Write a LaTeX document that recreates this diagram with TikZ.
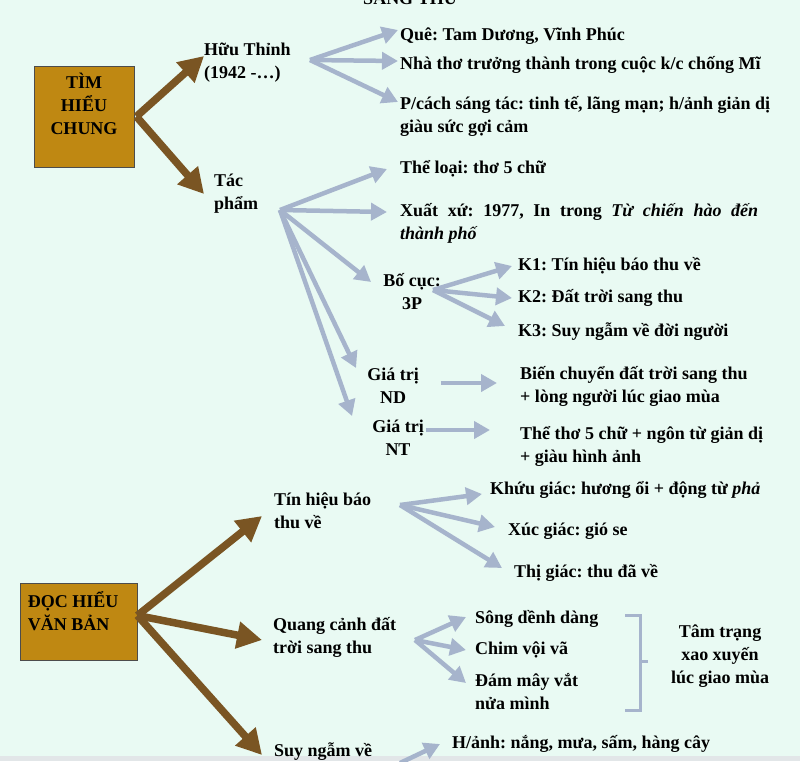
\documentclass[tikz,border=0pt]{standalone}
\usepackage{fontspec}
\setmainfont{Liberation Serif}
\usetikzlibrary{arrows.meta, positioning}

\definecolor{bgmint}{RGB}{233,250,243}
\definecolor{stripgray}{RGB}{226,230,232}
\definecolor{boxgold}{RGB}{191,136,18}
\definecolor{arrowbrown}{RGB}{122,85,35}
\definecolor{arrowblue}{RGB}{166,180,204}

\frenchspacing

\begin{document}
\begin{tikzpicture}[x=1pt, y=-1pt,
        txt/.style={font=\bfseries\fontsize{18}{23}\selectfont, inner sep=0pt, align=left, anchor=west},
        mid/.style={txt, align=center, anchor=center},
        topic/.style={draw=gray!60!black, fill=boxgold, line width=0.8pt, inner sep=0pt},
        mainarrow/.style={draw=arrowbrown, line width=7.5pt, -{Triangle[length=25pt,width=26pt]}},
        subarrow/.style={draw=arrowblue, line width=4.5pt, -{Triangle[length=16pt,width=17pt]}}]

        \fill[bgmint] (0,0) rectangle (800,761);
        \fill[stripgray] (0,756) rectangle (800,761);
        \useasboundingbox (0,0) rectangle (800,761);

        \node[txt, anchor=base] (title) at (410,4) {SANG THU};

        % tim hieu chung
        \node[topic, minimum width=100pt, minimum height=101pt,
              label={[mid, yshift=13pt]center:{TÌM\\HIỂU\\CHUNG}}] (timhieu) at (84,116.5) {};
        \node[txt] (huu) at (204,63) {Hữu Thỉnh\\(1942 -…)};
        \node[txt] (tac) at (214,194) {Tác\\phẩm};

        \node[txt] (que) at (400,36) {Quê: Tam Dương, Vĩnh Phúc};
        \node[txt] (nha) at (400,65) {Nhà thơ trưởng thành trong cuộc k/c chống Mĩ};
        \node[txt] (pcach) at (400,116) {P/cách sáng tác: tinh tế, lãng mạn; h/ảnh giản dị\\giàu sức gợi cảm};

        \node[txt] (theloai) at (400,169) {Thể loại: thơ 5 chữ};
        \node[txt] (xuatxu) at (400,223) {\makebox[358pt][s]{Xuất xứ: 1977, In trong \textit{Từ chiến hào đến}}\\\textit{thành phố}};
        \node[mid] (bocuc) at (412,292) {Bố cục:\\3P};
        \node[txt] (k1) at (518,266) {K1: Tín hiệu báo thu về};
        \node[txt] (k2) at (518,298) {K2: Đất trời sang thu};
        \node[txt] (k3) at (518,332) {K3: Suy ngẫm về đời người};
        \node[mid] (gtnd) at (393,386) {Giá trị\\ND};
        \node[txt] (bienchuyen) at (520,386) {Biến chuyển đất trời sang thu\\+ lòng người lúc giao mùa};
        \node[mid] (gtnt) at (398,438) {Giá trị\\NT};
        \node[txt] (thetho) at (520,446) {Thể thơ 5 chữ + ngôn từ giản dị\\+ giàu hình ảnh};

        \coordinate (hubA) at ([xshift=2pt]timhieu.east);
        \coordinate (hubHuu) at (310,60);
        \coordinate (hubTac) at (280,210);
        \coordinate (hubBo) at (433,290);

        \draw[mainarrow] (hubA) -- ([yshift=7pt]huu.west);
        \draw[mainarrow] (hubA) -- ([xshift=-10pt]tac.west);

        \draw[subarrow] (hubHuu) -- ([xshift=-2pt,yshift=6pt]que.west);
        \draw[subarrow] (hubHuu) -- ([xshift=-2pt,yshift=4pt]nha.west);
        \draw[subarrow] (hubHuu) -- ([xshift=-2pt,yshift=14pt]pcach.west);

        \draw[subarrow] (hubTac) -- ([xshift=-13pt]theloai.west);
        \draw[subarrow] (hubTac) -- ([xshift=-13pt,yshift=11pt]xuatxu.west);
        \draw[subarrow] (hubTac) -- ([xshift=-12pt,yshift=10pt]bocuc.west);
        \draw[subarrow] (hubTac) -- ([xshift=-11pt]gtnd.north west);
        \draw[subarrow] (hubTac) -- ([xshift=-20pt,yshift=4pt]gtnt.north west);

        \draw[subarrow] (hubBo) -- ([xshift=-6pt]k1.west);
        \draw[subarrow] (hubBo) -- ([xshift=-6pt]k2.west);
        \draw[subarrow] (hubBo) -- ([xshift=-13pt,yshift=6pt]k3.west);

        \draw[subarrow] ([xshift=22pt,yshift=3pt]gtnd.east) -- ([xshift=-23pt,yshift=3pt]bienchuyen.west);
        \draw[subarrow] ([xshift=2pt,yshift=8pt]gtnt.east) -- ([xshift=-30pt,yshift=16pt]thetho.west);

        % doc hieu van ban
        \node[topic, minimum width=117pt, minimum height=77pt,
              label={[txt, xshift=8pt, yshift=10pt]west:{ĐỌC HIỂU\\VĂN BẢN}}] (dochieu) at (78.5,621.5) {};
        \node[txt] (tinhieu) at (274,511) {Tín hiệu báo\\thu về};
        \node[txt] (quang) at (273,637) {Quang cảnh đất\\trời sang thu};
        \node[txt] (suy) at (274,752) {Suy ngẫm về};

        \node[txt] (khuu) at (490,490) {Khứu giác: hương ổi + động từ \textit{phả}};
        \node[txt] (xuc) at (508,531) {Xúc giác: gió se};
        \node[txt] (thi) at (514,573) {Thị giác: thu đã về};
        \node[txt] (song) at (475,619) {Sông dềnh dàng};
        \node[txt] (chim) at (475,650) {Chim vội vã};
        \node[txt] (may) at (475,692) {Đám mây vắt\\nửa mình};
        \node[mid] (tamtrang) at (720,656) {Tâm trạng\\xao xuyến\\lúc giao mùa};
        \node[txt] (hanh) at (452,744) {H/ảnh: nắng, mưa, sấm, hàng cây};

        \coordinate (hubB) at ([yshift=6pt]dochieu.east);
        \coordinate (hubTin) at (400,505);
        \coordinate (hubQuang) at (415,640);
        \coordinate (hubSuy) at (400,763);

        \draw[mainarrow] (hubB) -- ([xshift=-12pt,yshift=-5pt]tinhieu.west);
        \draw[mainarrow] (hubB) -- ([xshift=-11pt,yshift=-3pt]quang.west);
        \draw[mainarrow] (hubB) -- ([xshift=-12pt,yshift=-3pt]suy.west);

        \draw[subarrow] (hubTin) -- ([xshift=-8pt,yshift=-4pt]khuu.west);
        \draw[subarrow] (hubTin) -- ([xshift=-13pt,yshift=4pt]xuc.west);
        \draw[subarrow] (hubTin) -- ([xshift=-12pt,yshift=5pt]thi.west);

        \draw[subarrow] (hubQuang) -- ([xshift=-9pt,yshift=2pt]song.west);
        \draw[subarrow] (hubQuang) -- ([xshift=-9pt]chim.west);
        \draw[subarrow] (hubQuang) -- ([xshift=-9pt,yshift=9pt]may.west);
        \draw[subarrow] (hubSuy) -- ([xshift=-12pt]hanh.west);

        \draw[arrowblue, line width=3pt] (625,615) -- (640,615) -- (640,710) -- (625,710)
                (640,661) -- (648,661);

        \end{tikzpicture}
\end{document}
